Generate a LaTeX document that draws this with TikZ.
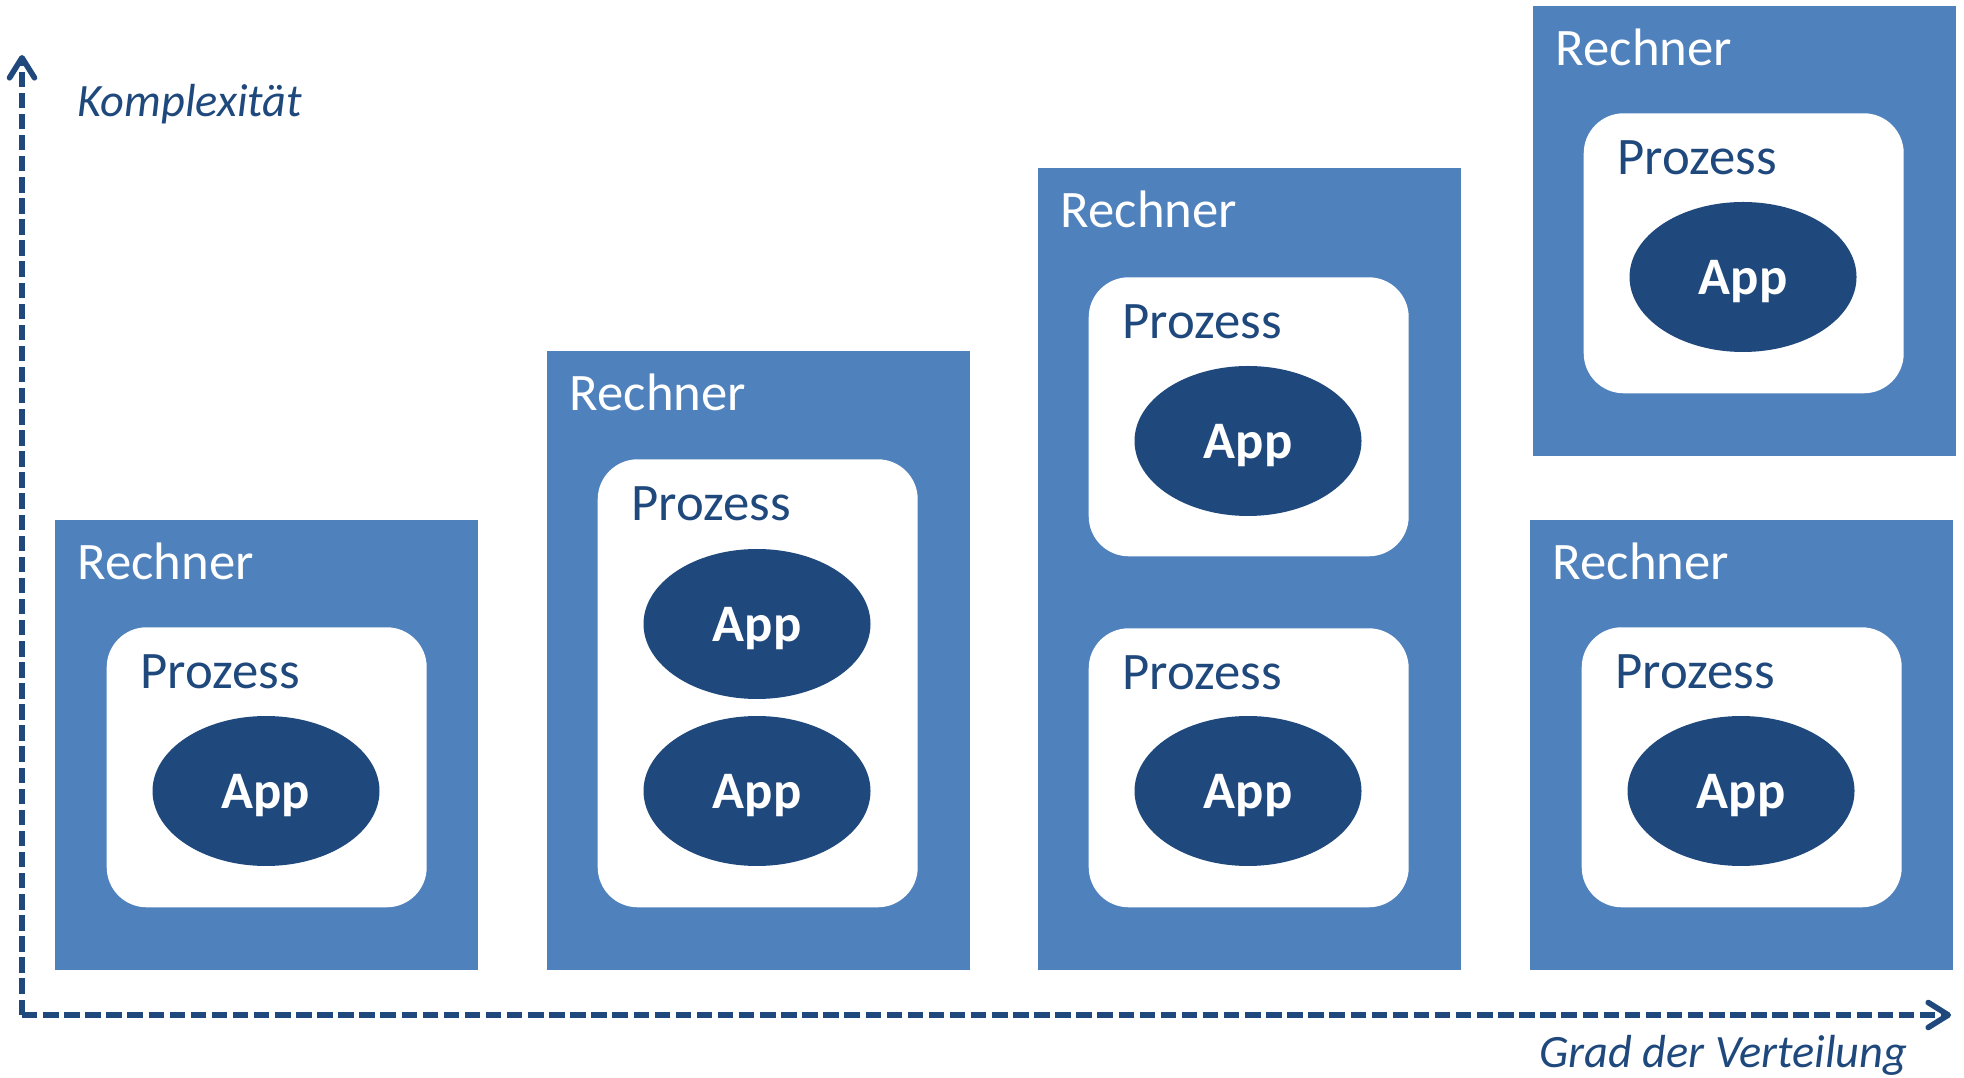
\documentclass[tikz,border=0pt]{standalone}
\usepackage{fontspec}
\setmainfont{Carlito}
\usetikzlibrary{arrows.meta,positioning,shapes.geometric}
\definecolor{boxblue}{HTML}{4F81BD}
\definecolor{darkblue}{HTML}{1F497D}

\begin{document}
\begin{tikzpicture}[
  rechner/.style={fill=boxblue, minimum width=4.23cm, anchor=south west, inner sep=0pt},
  prozess/.style={fill=white, rounded corners=0.4cm, minimum width=3.2cm, anchor=south west, inner sep=0pt},
  app/.style={ellipse, fill=darkblue, minimum width=2.27cm, minimum height=1.5cm, inner sep=0pt,
    text=white, font=\fontsize{15pt}{18pt}\selectfont\bfseries, text depth=0pt},
  rlabel/.style={anchor=base west, inner sep=0pt, text=white, font=\fontsize{15pt}{18pt}\selectfont},
  plabel/.style={anchor=base west, inner sep=0pt, text=darkblue, font=\fontsize{15pt}{18pt}\selectfont},
  axislabel/.style={inner sep=0pt, text=darkblue, font=\fontsize{13.2pt}{16pt}\selectfont\itshape},
  axis/.style={draw=darkblue, line width=1.6pt, dash pattern=on 4.4pt off 1.6pt,
    -{Straight Barb[length=2mm, width=2.5mm, round]}}
]
\useasboundingbox (0,0) rectangle (19.64,10.77);

% Axes
\coordinate (origin) at (0.22,0.62);
\coordinate (ytop) at (0.22,10.22);
\coordinate (xend) at (19.51,0.62);
\draw[axis] (origin) -- (ytop);
\draw[axis] (origin) -- (xend);
\node[axislabel, anchor=base west] (ylab) at (0.77,9.60) {Komplexität};
\node[axislabel, anchor=base east] (xlab) at (19.08,0.10) {Grad der Verteilung};

% 1: ein Rechner, ein Prozess, eine App
\node[rechner, minimum height=4.5cm] (r1) at (0.54,1.06) {};
\node[rlabel] at ([xshift=0.23cm, yshift=-0.60cm]r1.north west) {Rechner};
\node[prozess, minimum height=2.8cm] (p1) at (1.06,1.69) {};
\node[plabel] at ([xshift=0.34cm, yshift=-0.62cm]p1.north west) {Prozess};
\node[app] (a1) at (2.66,2.86) {App};

% 2: ein Prozess, zwei Apps
\node[rechner, minimum height=6.19cm] (r2) at (5.46,1.06) {};
\node[rlabel] at ([xshift=0.23cm, yshift=-0.60cm]r2.north west) {Rechner};
\node[prozess, minimum height=4.48cm] (p2) at (5.97,1.69) {};
\node[plabel] at ([xshift=0.34cm, yshift=-0.62cm]p2.north west) {Prozess};
\node[app] (a2a) at (7.57,4.53) {App};
\node[app] (a2b) at (7.57,2.86) {App};

% 3: zwei Prozesse
\node[rechner, minimum height=8.02cm] (r3) at (10.37,1.06) {};
\node[rlabel] at ([xshift=0.23cm, yshift=-0.60cm]r3.north west) {Rechner};
\node[prozess, minimum height=2.79cm] (p3a) at (10.88,5.20) {};
\node[plabel] at ([xshift=0.34cm, yshift=-0.62cm]p3a.north west) {Prozess};
\node[app] (a3a) at (12.48,6.36) {App};
\node[prozess, minimum height=2.79cm] (p3b) at (10.88,1.69) {};
\node[plabel] at ([xshift=0.34cm, yshift=-0.62cm]p3b.north west) {Prozess};
\node[app] (a3b) at (12.48,2.86) {App};

% 4: zwei Rechner
\node[rechner, minimum height=4.5cm] (r4) at (15.29,1.06) {};
\node[rlabel] at ([xshift=0.23cm, yshift=-0.60cm]r4.north west) {Rechner};
\node[prozess, minimum height=2.8cm] (p4) at (15.81,1.69) {};
\node[plabel] at ([xshift=0.34cm, yshift=-0.62cm]p4.north west) {Prozess};
\node[app] (a4) at (17.41,2.86) {App};

\node[rechner, minimum height=4.5cm] (r5) at (15.32,6.20) {};
\node[rlabel] at ([xshift=0.23cm, yshift=-0.60cm]r5.north west) {Rechner};
\node[prozess, minimum height=2.8cm] (p5) at (15.83,6.83) {};
\node[plabel] at ([xshift=0.34cm, yshift=-0.62cm]p5.north west) {Prozess};
\node[app] (a5) at (17.43,8.00) {App};
\end{tikzpicture}
\end{document}
